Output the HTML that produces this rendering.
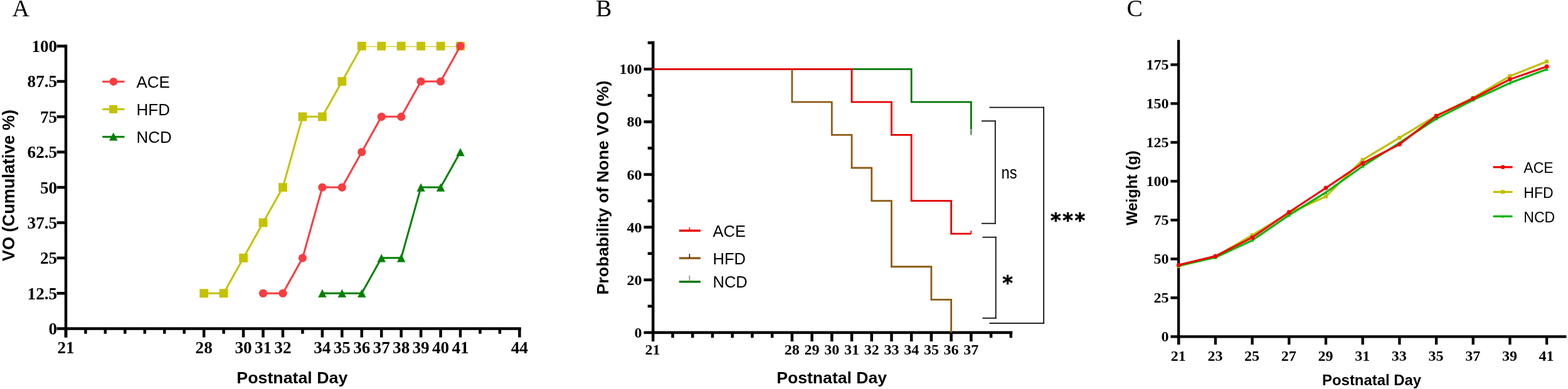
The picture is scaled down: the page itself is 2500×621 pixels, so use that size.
<!DOCTYPE html>
<html><head><meta charset="utf-8"><title>Figure</title>
<style>
html,body{margin:0;padding:0;background:#fff;}
body{width:2500px;height:621px;overflow:hidden;}
svg{display:block;}
</style></head>
<body>
<svg width="2500" height="621" viewBox="0 0 2500 621">
<rect x="0" y="0" width="2500" height="621" fill="#fff"/>
<text x="19.50" y="25.90" font-family="'Liberation Serif', 'Times New Roman', serif" font-size="38" font-weight="normal" text-anchor="start" fill="#000" >A</text>
<rect x="102.75" y="71.30" width="4.50" height="467.30" fill="#000"/>
<rect x="103.00" y="522.35" width="727.70" height="4.50" fill="#000"/>
<rect x="90.60" y="522.35" width="14.40" height="4.50" fill="#000"/>
<text x="91.20" y="534.00" font-family="'Liberation Serif', 'Times New Roman', serif" font-size="27.2" font-weight="bold" text-anchor="end" fill="#000" >0</text>
<rect x="90.60" y="465.98" width="14.40" height="4.50" fill="#000"/>
<text x="91.20" y="477.62" font-family="'Liberation Serif', 'Times New Roman', serif" font-size="27.2" font-weight="bold" text-anchor="end" fill="#000" >12.5</text>
<rect x="90.60" y="409.60" width="14.40" height="4.50" fill="#000"/>
<text x="91.20" y="421.25" font-family="'Liberation Serif', 'Times New Roman', serif" font-size="27.2" font-weight="bold" text-anchor="end" fill="#000" >25</text>
<rect x="90.60" y="353.23" width="14.40" height="4.50" fill="#000"/>
<text x="91.20" y="364.88" font-family="'Liberation Serif', 'Times New Roman', serif" font-size="27.2" font-weight="bold" text-anchor="end" fill="#000" >37.5</text>
<rect x="90.60" y="296.85" width="14.40" height="4.50" fill="#000"/>
<text x="91.20" y="308.50" font-family="'Liberation Serif', 'Times New Roman', serif" font-size="27.2" font-weight="bold" text-anchor="end" fill="#000" >50</text>
<rect x="90.60" y="240.48" width="14.40" height="4.50" fill="#000"/>
<text x="91.20" y="252.13" font-family="'Liberation Serif', 'Times New Roman', serif" font-size="27.2" font-weight="bold" text-anchor="end" fill="#000" >62.5</text>
<rect x="90.60" y="184.10" width="14.40" height="4.50" fill="#000"/>
<text x="91.20" y="195.75" font-family="'Liberation Serif', 'Times New Roman', serif" font-size="27.2" font-weight="bold" text-anchor="end" fill="#000" >75</text>
<rect x="90.60" y="127.73" width="14.40" height="4.50" fill="#000"/>
<text x="91.20" y="139.38" font-family="'Liberation Serif', 'Times New Roman', serif" font-size="27.2" font-weight="bold" text-anchor="end" fill="#000" >87.5</text>
<rect x="90.60" y="71.35" width="14.40" height="4.50" fill="#000"/>
<text x="91.20" y="83.00" font-family="'Liberation Serif', 'Times New Roman', serif" font-size="27.2" font-weight="bold" text-anchor="end" fill="#000" >100</text>
<rect x="102.75" y="524.60" width="4.50" height="14.00" fill="#000"/>
<rect x="134.20" y="524.60" width="4.50" height="8.20" fill="#000"/>
<rect x="165.65" y="524.60" width="4.50" height="8.20" fill="#000"/>
<rect x="197.10" y="524.60" width="4.50" height="8.20" fill="#000"/>
<rect x="228.55" y="524.60" width="4.50" height="8.20" fill="#000"/>
<rect x="260.00" y="524.60" width="4.50" height="8.20" fill="#000"/>
<rect x="291.45" y="524.60" width="4.50" height="8.20" fill="#000"/>
<rect x="322.90" y="524.60" width="4.50" height="14.00" fill="#000"/>
<rect x="354.35" y="524.60" width="4.50" height="8.20" fill="#000"/>
<rect x="385.80" y="524.60" width="4.50" height="14.00" fill="#000"/>
<rect x="417.25" y="524.60" width="4.50" height="14.00" fill="#000"/>
<rect x="448.70" y="524.60" width="4.50" height="14.00" fill="#000"/>
<rect x="480.15" y="524.60" width="4.50" height="8.20" fill="#000"/>
<rect x="511.60" y="524.60" width="4.50" height="14.00" fill="#000"/>
<rect x="543.05" y="524.60" width="4.50" height="14.00" fill="#000"/>
<rect x="574.50" y="524.60" width="4.50" height="14.00" fill="#000"/>
<rect x="605.95" y="524.60" width="4.50" height="14.00" fill="#000"/>
<rect x="637.40" y="524.60" width="4.50" height="14.00" fill="#000"/>
<rect x="668.85" y="524.60" width="4.50" height="14.00" fill="#000"/>
<rect x="700.30" y="524.60" width="4.50" height="14.00" fill="#000"/>
<rect x="731.75" y="524.60" width="4.50" height="14.00" fill="#000"/>
<rect x="763.20" y="524.60" width="4.50" height="8.20" fill="#000"/>
<rect x="794.65" y="524.60" width="4.50" height="8.20" fill="#000"/>
<rect x="826.10" y="524.60" width="4.50" height="14.00" fill="#000"/>
<text x="105.00" y="564.20" font-family="'Liberation Serif', 'Times New Roman', serif" font-size="27.2" font-weight="bold" text-anchor="middle" fill="#000" >21</text>
<text x="325.15" y="564.20" font-family="'Liberation Serif', 'Times New Roman', serif" font-size="27.2" font-weight="bold" text-anchor="middle" fill="#000" >28</text>
<text x="388.05" y="564.20" font-family="'Liberation Serif', 'Times New Roman', serif" font-size="27.2" font-weight="bold" text-anchor="middle" fill="#000" >30</text>
<text x="419.50" y="564.20" font-family="'Liberation Serif', 'Times New Roman', serif" font-size="27.2" font-weight="bold" text-anchor="middle" fill="#000" >31</text>
<text x="450.95" y="564.20" font-family="'Liberation Serif', 'Times New Roman', serif" font-size="27.2" font-weight="bold" text-anchor="middle" fill="#000" >32</text>
<text x="513.85" y="564.20" font-family="'Liberation Serif', 'Times New Roman', serif" font-size="27.2" font-weight="bold" text-anchor="middle" fill="#000" >34</text>
<text x="545.30" y="564.20" font-family="'Liberation Serif', 'Times New Roman', serif" font-size="27.2" font-weight="bold" text-anchor="middle" fill="#000" >35</text>
<text x="576.75" y="564.20" font-family="'Liberation Serif', 'Times New Roman', serif" font-size="27.2" font-weight="bold" text-anchor="middle" fill="#000" >36</text>
<text x="608.20" y="564.20" font-family="'Liberation Serif', 'Times New Roman', serif" font-size="27.2" font-weight="bold" text-anchor="middle" fill="#000" >37</text>
<text x="639.65" y="564.20" font-family="'Liberation Serif', 'Times New Roman', serif" font-size="27.2" font-weight="bold" text-anchor="middle" fill="#000" >38</text>
<text x="671.10" y="564.20" font-family="'Liberation Serif', 'Times New Roman', serif" font-size="27.2" font-weight="bold" text-anchor="middle" fill="#000" >39</text>
<text x="702.55" y="564.20" font-family="'Liberation Serif', 'Times New Roman', serif" font-size="27.2" font-weight="bold" text-anchor="middle" fill="#000" >40</text>
<text x="734.00" y="564.20" font-family="'Liberation Serif', 'Times New Roman', serif" font-size="27.2" font-weight="bold" text-anchor="middle" fill="#000" >41</text>
<text x="828.35" y="564.20" font-family="'Liberation Serif', 'Times New Roman', serif" font-size="27.2" font-weight="bold" text-anchor="middle" fill="#000" >44</text>
<text x="377.30" y="612.10" font-family="'Liberation Sans', Arial, Helvetica, sans-serif" font-size="26.5" font-weight="bold" text-anchor="start" fill="#000" textLength="177" lengthAdjust="spacingAndGlyphs">Postnatal Day</text>
<text transform="translate(22.6,417) rotate(-90)" x="0" y="0" font-family="'Liberation Sans', Arial, Helvetica, sans-serif" font-size="27" font-weight="bold" textLength="242" lengthAdjust="spacingAndGlyphs">VO (Cumulative %)</text>
<clipPath id="clipA"><rect x="0" y="73.9" width="900" height="460"/></clipPath>
<polyline points="513.85,468.23 545.30,468.23 576.75,468.23 608.20,411.85 639.65,411.85 671.10,299.10 702.55,299.10 734.00,242.73" fill="none" stroke="#008000" stroke-width="3" stroke-linejoin="miter" stroke-linecap="butt" />
<polygon points="507.15,474.83 520.55,474.83 513.85,461.62" fill="#008000"/>
<polygon points="538.60,474.83 552.00,474.83 545.30,461.62" fill="#008000"/>
<polygon points="570.05,474.83 583.45,474.83 576.75,461.62" fill="#008000"/>
<polygon points="601.50,418.45 614.90,418.45 608.20,405.25" fill="#008000"/>
<polygon points="632.95,418.45 646.35,418.45 639.65,405.25" fill="#008000"/>
<polygon points="664.40,305.70 677.80,305.70 671.10,292.50" fill="#008000"/>
<polygon points="695.85,305.70 709.25,305.70 702.55,292.50" fill="#008000"/>
<polygon points="727.30,249.33 740.70,249.33 734.00,236.13" fill="#008000"/>
<polyline points="325.15,468.23 356.60,468.23 388.05,411.85 419.50,355.48 450.95,299.10 482.40,186.35 513.85,186.35 545.30,129.98 576.75,73.60 608.20,73.60 639.65,73.60 671.10,73.60 702.55,73.60 734.00,73.60" fill="none" stroke="#c4c200" stroke-width="3" stroke-linejoin="miter" stroke-linecap="butt" clip-path="url(#clipA)"/>
<rect x="318.25" y="461.33" width="13.8" height="13.8" fill="#c4c200"/>
<rect x="349.70" y="461.33" width="13.8" height="13.8" fill="#c4c200"/>
<rect x="381.15" y="404.95" width="13.8" height="13.8" fill="#c4c200"/>
<rect x="412.60" y="348.58" width="13.8" height="13.8" fill="#c4c200"/>
<rect x="444.05" y="292.20" width="13.8" height="13.8" fill="#c4c200"/>
<rect x="475.50" y="179.45" width="13.8" height="13.8" fill="#c4c200"/>
<rect x="506.95" y="179.45" width="13.8" height="13.8" fill="#c4c200"/>
<rect x="538.40" y="123.08" width="13.8" height="13.8" fill="#c4c200"/>
<rect x="569.85" y="66.70" width="13.8" height="13.8" fill="#c4c200"/>
<rect x="601.30" y="66.70" width="13.8" height="13.8" fill="#c4c200"/>
<rect x="632.75" y="66.70" width="13.8" height="13.8" fill="#c4c200"/>
<rect x="664.20" y="66.70" width="13.8" height="13.8" fill="#c4c200"/>
<rect x="695.65" y="66.70" width="13.8" height="13.8" fill="#c4c200"/>
<rect x="727.10" y="66.70" width="13.8" height="13.8" fill="#c4c200"/>
<polyline points="419.50,468.23 450.95,468.23 482.40,411.85 513.85,299.10 545.30,299.10 576.75,242.73 608.20,186.35 639.65,186.35 671.10,129.98 702.55,129.98 734.00,73.60" fill="none" stroke="#fa3c40" stroke-width="3" stroke-linejoin="miter" stroke-linecap="butt" clip-path="url(#clipA)"/>
<circle cx="419.50" cy="468.23" r="6.6" fill="#fa3c40"/>
<circle cx="450.95" cy="468.23" r="6.6" fill="#fa3c40"/>
<circle cx="482.40" cy="411.85" r="6.6" fill="#fa3c40"/>
<circle cx="513.85" cy="299.10" r="6.6" fill="#fa3c40"/>
<circle cx="545.30" cy="299.10" r="6.6" fill="#fa3c40"/>
<circle cx="576.75" cy="242.73" r="6.6" fill="#fa3c40"/>
<circle cx="608.20" cy="186.35" r="6.6" fill="#fa3c40"/>
<circle cx="639.65" cy="186.35" r="6.6" fill="#fa3c40"/>
<circle cx="671.10" cy="129.98" r="6.6" fill="#fa3c40"/>
<circle cx="702.55" cy="129.98" r="6.6" fill="#fa3c40"/>
<circle cx="734.00" cy="73.60" r="6.6" fill="#fa3c40"/>
<rect x="163.20" y="128.80" width="35.30" height="3.00" fill="#fa3c40"/>
<circle cx="181.00" cy="130.30" r="6.4" fill="#fa3c40"/>
<text x="217.50" y="140.10" font-family="'Liberation Sans', Arial, Helvetica, sans-serif" font-size="26" font-weight="normal" text-anchor="start" fill="#000" >ACE</text>
<rect x="163.20" y="172.90" width="35.30" height="3.00" fill="#c4c200"/>
<rect x="174.10" y="167.90" width="13" height="13" fill="#c4c200"/>
<text x="217.50" y="184.20" font-family="'Liberation Sans', Arial, Helvetica, sans-serif" font-size="26" font-weight="normal" text-anchor="start" fill="#000" >HFD</text>
<rect x="163.20" y="216.90" width="35.30" height="3.00" fill="#008000"/>
<polygon points="174.00,224.60 187.60,224.60 180.80,211.60" fill="#008000"/>
<text x="217.50" y="228.20" font-family="'Liberation Sans', Arial, Helvetica, sans-serif" font-size="26" font-weight="normal" text-anchor="start" fill="#000" >NCD</text>
<text x="950.00" y="25.80" font-family="'Liberation Serif', 'Times New Roman', serif" font-size="38" font-weight="normal" text-anchor="start" fill="#000" >B</text>
<rect x="1038.95" y="65.70" width="4.50" height="479.40" fill="#000"/>
<rect x="1039.00" y="528.65" width="575.30" height="4.50" fill="#000"/>
<rect x="1026.50" y="528.65" width="14.70" height="4.50" fill="#000"/>
<text x="1023.40" y="538.90" font-family="'Liberation Serif', 'Times New Roman', serif" font-size="24" font-weight="bold" text-anchor="end" fill="#000" >0</text>
<rect x="1032.70" y="486.59" width="8.50" height="4.50" fill="#000"/>
<rect x="1026.50" y="444.53" width="14.70" height="4.50" fill="#000"/>
<text x="1023.40" y="454.78" font-family="'Liberation Serif', 'Times New Roman', serif" font-size="24" font-weight="bold" text-anchor="end" fill="#000" >20</text>
<rect x="1032.70" y="402.47" width="8.50" height="4.50" fill="#000"/>
<rect x="1026.50" y="360.41" width="14.70" height="4.50" fill="#000"/>
<text x="1023.40" y="370.66" font-family="'Liberation Serif', 'Times New Roman', serif" font-size="24" font-weight="bold" text-anchor="end" fill="#000" >40</text>
<rect x="1032.70" y="318.35" width="8.50" height="4.50" fill="#000"/>
<rect x="1026.50" y="276.29" width="14.70" height="4.50" fill="#000"/>
<text x="1023.40" y="286.54" font-family="'Liberation Serif', 'Times New Roman', serif" font-size="24" font-weight="bold" text-anchor="end" fill="#000" >60</text>
<rect x="1032.70" y="234.23" width="8.50" height="4.50" fill="#000"/>
<rect x="1026.50" y="192.17" width="14.70" height="4.50" fill="#000"/>
<text x="1023.40" y="202.42" font-family="'Liberation Serif', 'Times New Roman', serif" font-size="24" font-weight="bold" text-anchor="end" fill="#000" >80</text>
<rect x="1032.70" y="150.11" width="8.50" height="4.50" fill="#000"/>
<rect x="1026.50" y="108.05" width="14.70" height="4.50" fill="#000"/>
<text x="1023.40" y="118.30" font-family="'Liberation Serif', 'Times New Roman', serif" font-size="24" font-weight="bold" text-anchor="end" fill="#000" >100</text>
<rect x="1032.70" y="65.99" width="8.50" height="4.50" fill="#000"/>
<rect x="1070.27" y="530.90" width="4.50" height="8.40" fill="#000"/>
<rect x="1101.99" y="530.90" width="4.50" height="8.40" fill="#000"/>
<rect x="1133.71" y="530.90" width="4.50" height="8.40" fill="#000"/>
<rect x="1165.43" y="530.90" width="4.50" height="8.40" fill="#000"/>
<rect x="1197.15" y="530.90" width="4.50" height="8.40" fill="#000"/>
<rect x="1228.87" y="530.90" width="4.50" height="8.40" fill="#000"/>
<rect x="1260.59" y="530.90" width="4.50" height="14.20" fill="#000"/>
<rect x="1292.31" y="530.90" width="4.50" height="14.20" fill="#000"/>
<rect x="1324.03" y="530.90" width="4.50" height="14.20" fill="#000"/>
<rect x="1355.75" y="530.90" width="4.50" height="14.20" fill="#000"/>
<rect x="1387.47" y="530.90" width="4.50" height="14.20" fill="#000"/>
<rect x="1419.19" y="530.90" width="4.50" height="14.20" fill="#000"/>
<rect x="1450.91" y="530.90" width="4.50" height="14.20" fill="#000"/>
<rect x="1482.63" y="530.90" width="4.50" height="14.20" fill="#000"/>
<rect x="1514.35" y="530.90" width="4.50" height="14.20" fill="#000"/>
<rect x="1546.07" y="530.90" width="4.50" height="14.20" fill="#000"/>
<rect x="1577.79" y="530.90" width="4.50" height="8.40" fill="#000"/>
<rect x="1609.51" y="530.90" width="4.50" height="8.40" fill="#000"/>
<text x="1040.60" y="566.20" font-family="'Liberation Serif', 'Times New Roman', serif" font-size="24" font-weight="bold" text-anchor="middle" fill="#000" >21</text>
<text x="1262.84" y="566.20" font-family="'Liberation Serif', 'Times New Roman', serif" font-size="24" font-weight="bold" text-anchor="middle" fill="#000" >28</text>
<text x="1294.56" y="566.20" font-family="'Liberation Serif', 'Times New Roman', serif" font-size="24" font-weight="bold" text-anchor="middle" fill="#000" >29</text>
<text x="1326.28" y="566.20" font-family="'Liberation Serif', 'Times New Roman', serif" font-size="24" font-weight="bold" text-anchor="middle" fill="#000" >30</text>
<text x="1358.00" y="566.20" font-family="'Liberation Serif', 'Times New Roman', serif" font-size="24" font-weight="bold" text-anchor="middle" fill="#000" >31</text>
<text x="1389.72" y="566.20" font-family="'Liberation Serif', 'Times New Roman', serif" font-size="24" font-weight="bold" text-anchor="middle" fill="#000" >32</text>
<text x="1421.44" y="566.20" font-family="'Liberation Serif', 'Times New Roman', serif" font-size="24" font-weight="bold" text-anchor="middle" fill="#000" >33</text>
<text x="1453.16" y="566.20" font-family="'Liberation Serif', 'Times New Roman', serif" font-size="24" font-weight="bold" text-anchor="middle" fill="#000" >34</text>
<text x="1484.88" y="566.20" font-family="'Liberation Serif', 'Times New Roman', serif" font-size="24" font-weight="bold" text-anchor="middle" fill="#000" >35</text>
<text x="1516.60" y="566.20" font-family="'Liberation Serif', 'Times New Roman', serif" font-size="24" font-weight="bold" text-anchor="middle" fill="#000" >36</text>
<text x="1548.32" y="566.20" font-family="'Liberation Serif', 'Times New Roman', serif" font-size="24" font-weight="bold" text-anchor="middle" fill="#000" >37</text>
<text x="1238.20" y="612.30" font-family="'Liberation Sans', Arial, Helvetica, sans-serif" font-size="26.5" font-weight="bold" text-anchor="start" fill="#000" textLength="176" lengthAdjust="spacingAndGlyphs">Postnatal Day</text>
<text transform="translate(970.2,470.6) rotate(-90)" x="0" y="0" font-family="'Liberation Sans', Arial, Helvetica, sans-serif" font-size="26.6" font-weight="bold" textLength="342" lengthAdjust="spacingAndGlyphs">Probability of None VO (%)</text>
<polyline points="1040.80,110.30 1453.16,110.30 1453.16,162.87 1548.32,162.87 1548.32,162.87 1548.32,206.20" fill="none" stroke="#057505" stroke-width="2.8" stroke-linejoin="miter" stroke-linecap="butt" />
<rect x="1546.92" y="206.20" width="2.80" height="9.25" fill="#6f8f6f"/>
<polyline points="1040.80,110.30 1262.84,110.30 1262.84,162.87 1326.28,162.87 1326.28,215.45 1358.00,215.45 1358.00,268.02 1389.72,268.02 1389.72,320.60 1421.44,320.60 1421.44,425.75 1484.88,425.75 1484.88,478.32 1516.60,478.32 1516.60,530.90" fill="none" stroke="#8c5c14" stroke-width="2.8" stroke-linejoin="miter" stroke-linecap="butt" />
<polyline points="1040.80,110.30 1358.00,110.30 1358.00,162.87 1421.44,162.87 1421.44,215.45 1453.16,215.45 1453.16,320.60 1516.60,320.60 1516.60,373.17 1548.32,373.17 1548.32,373.17" fill="none" stroke="#e40000" stroke-width="2.8" stroke-linejoin="miter" stroke-linecap="butt" />
<rect x="1547.42" y="368.17" width="1.80" height="5.00" fill="#e40000"/>
<rect x="1577.50" y="170.60" width="87.60" height="1.80" fill="#111"/>
<rect x="1663.20" y="170.60" width="1.80" height="346.30" fill="#111"/>
<rect x="1577.40" y="515.10" width="87.70" height="1.80" fill="#111"/>
<rect x="1565.00" y="192.30" width="22.60" height="1.80" fill="#111"/>
<rect x="1585.90" y="192.30" width="1.80" height="165.30" fill="#111"/>
<rect x="1565.00" y="355.80" width="22.60" height="1.80" fill="#111"/>
<rect x="1566.50" y="377.80" width="22.10" height="1.80" fill="#111"/>
<rect x="1586.80" y="377.80" width="1.80" height="130.90" fill="#111"/>
<rect x="1566.50" y="506.90" width="22.10" height="1.80" fill="#111"/>
<text x="1596.50" y="284.80" font-family="'Liberation Sans', Arial, Helvetica, sans-serif" font-size="28" font-weight="normal" text-anchor="start" fill="#000" textLength="25" lengthAdjust="spacingAndGlyphs">ns</text>
<text x="1598.20" y="462.20" font-family="'DejaVu Sans', 'Liberation Sans', sans-serif" font-size="31.8" font-weight="bold" text-anchor="start" fill="#000" stroke="#000" stroke-width="0.7">*</text>
<text x="1674.90" y="362.30" font-family="'DejaVu Sans', 'Liberation Sans', sans-serif" font-size="31.8" font-weight="bold" text-anchor="start" fill="#000" stroke="#000" stroke-width="0.7" letter-spacing="2.7">***</text>
<rect x="1082.80" y="366.50" width="34.10" height="3.40" fill="#e40000"/>
<rect x="1098.60" y="363.20" width="1.60" height="5.00" fill="#e40000"/>
<text x="1136.50" y="377.70" font-family="'Liberation Sans', Arial, Helvetica, sans-serif" font-size="25.5" font-weight="normal" text-anchor="start" fill="#000" >ACE</text>
<rect x="1082.80" y="410.40" width="34.10" height="3.40" fill="#8c5c14"/>
<rect x="1098.60" y="405.10" width="1.60" height="7.00" fill="#222"/>
<text x="1136.50" y="421.60" font-family="'Liberation Sans', Arial, Helvetica, sans-serif" font-size="25.5" font-weight="normal" text-anchor="start" fill="#000" >HFD</text>
<rect x="1082.80" y="448.10" width="34.10" height="3.40" fill="#057505"/>
<rect x="1098.60" y="439.80" width="1.60" height="10.00" fill="#888"/>
<text x="1136.50" y="459.30" font-family="'Liberation Sans', Arial, Helvetica, sans-serif" font-size="25.5" font-weight="normal" text-anchor="start" fill="#000" >NCD</text>
<text x="1796.50" y="25.80" font-family="'Liberation Serif', 'Times New Roman', serif" font-size="38" font-weight="normal" text-anchor="start" fill="#000" >C</text>
<rect x="1876.95" y="63.70" width="4.30" height="486.30" fill="#000"/>
<rect x="1877.00" y="535.25" width="620.50" height="4.30" fill="#000"/>
<rect x="1866.40" y="535.25" width="12.70" height="4.30" fill="#000"/>
<text x="1863.40" y="545.40" font-family="'Liberation Serif', 'Times New Roman', serif" font-size="24" font-weight="bold" text-anchor="end" fill="#000" >0</text>
<rect x="1866.40" y="473.24" width="12.70" height="4.30" fill="#000"/>
<text x="1863.40" y="483.38" font-family="'Liberation Serif', 'Times New Roman', serif" font-size="24" font-weight="bold" text-anchor="end" fill="#000" >25</text>
<rect x="1866.40" y="411.22" width="12.70" height="4.30" fill="#000"/>
<text x="1863.40" y="421.37" font-family="'Liberation Serif', 'Times New Roman', serif" font-size="24" font-weight="bold" text-anchor="end" fill="#000" >50</text>
<rect x="1866.40" y="349.21" width="12.70" height="4.30" fill="#000"/>
<text x="1863.40" y="359.36" font-family="'Liberation Serif', 'Times New Roman', serif" font-size="24" font-weight="bold" text-anchor="end" fill="#000" >75</text>
<rect x="1866.40" y="287.19" width="12.70" height="4.30" fill="#000"/>
<text x="1863.40" y="297.34" font-family="'Liberation Serif', 'Times New Roman', serif" font-size="24" font-weight="bold" text-anchor="end" fill="#000" >100</text>
<rect x="1866.40" y="225.17" width="12.70" height="4.30" fill="#000"/>
<text x="1863.40" y="235.32" font-family="'Liberation Serif', 'Times New Roman', serif" font-size="24" font-weight="bold" text-anchor="end" fill="#000" >125</text>
<rect x="1866.40" y="163.16" width="12.70" height="4.30" fill="#000"/>
<text x="1863.40" y="173.31" font-family="'Liberation Serif', 'Times New Roman', serif" font-size="24" font-weight="bold" text-anchor="end" fill="#000" >150</text>
<rect x="1866.40" y="101.15" width="12.70" height="4.30" fill="#000"/>
<text x="1863.40" y="111.30" font-family="'Liberation Serif', 'Times New Roman', serif" font-size="24" font-weight="bold" text-anchor="end" fill="#000" >175</text>
<rect x="1877.05" y="537.40" width="4.30" height="12.80" fill="#000"/>
<text x="1878.70" y="576.30" font-family="'Liberation Serif', 'Times New Roman', serif" font-size="24" font-weight="bold" text-anchor="middle" fill="#000" >21</text>
<rect x="1935.74" y="537.40" width="4.30" height="12.80" fill="#000"/>
<text x="1937.39" y="576.30" font-family="'Liberation Serif', 'Times New Roman', serif" font-size="24" font-weight="bold" text-anchor="middle" fill="#000" >23</text>
<rect x="1994.43" y="537.40" width="4.30" height="12.80" fill="#000"/>
<text x="1996.08" y="576.30" font-family="'Liberation Serif', 'Times New Roman', serif" font-size="24" font-weight="bold" text-anchor="middle" fill="#000" >25</text>
<rect x="2053.12" y="537.40" width="4.30" height="12.80" fill="#000"/>
<text x="2054.77" y="576.30" font-family="'Liberation Serif', 'Times New Roman', serif" font-size="24" font-weight="bold" text-anchor="middle" fill="#000" >27</text>
<rect x="2111.81" y="537.40" width="4.30" height="12.80" fill="#000"/>
<text x="2113.46" y="576.30" font-family="'Liberation Serif', 'Times New Roman', serif" font-size="24" font-weight="bold" text-anchor="middle" fill="#000" >29</text>
<rect x="2170.50" y="537.40" width="4.30" height="12.80" fill="#000"/>
<text x="2172.15" y="576.30" font-family="'Liberation Serif', 'Times New Roman', serif" font-size="24" font-weight="bold" text-anchor="middle" fill="#000" >31</text>
<rect x="2229.19" y="537.40" width="4.30" height="12.80" fill="#000"/>
<text x="2230.84" y="576.30" font-family="'Liberation Serif', 'Times New Roman', serif" font-size="24" font-weight="bold" text-anchor="middle" fill="#000" >33</text>
<rect x="2287.88" y="537.40" width="4.30" height="12.80" fill="#000"/>
<text x="2289.53" y="576.30" font-family="'Liberation Serif', 'Times New Roman', serif" font-size="24" font-weight="bold" text-anchor="middle" fill="#000" >35</text>
<rect x="2346.57" y="537.40" width="4.30" height="12.80" fill="#000"/>
<text x="2348.22" y="576.30" font-family="'Liberation Serif', 'Times New Roman', serif" font-size="24" font-weight="bold" text-anchor="middle" fill="#000" >37</text>
<rect x="2405.26" y="537.40" width="4.30" height="12.80" fill="#000"/>
<text x="2406.91" y="576.30" font-family="'Liberation Serif', 'Times New Roman', serif" font-size="24" font-weight="bold" text-anchor="middle" fill="#000" >39</text>
<rect x="2463.95" y="537.40" width="4.30" height="12.80" fill="#000"/>
<text x="2465.60" y="576.30" font-family="'Liberation Serif', 'Times New Roman', serif" font-size="24" font-weight="bold" text-anchor="middle" fill="#000" >41</text>
<text x="2108.10" y="615.20" font-family="'Liberation Sans', Arial, Helvetica, sans-serif" font-size="24" font-weight="bold" text-anchor="start" fill="#000" textLength="158" lengthAdjust="spacingAndGlyphs">Postnatal Day</text>
<text transform="translate(1812.6,359.7) rotate(-90)" x="0" y="0" font-family="'Liberation Sans', Arial, Helvetica, sans-serif" font-size="24.2" font-weight="bold" textLength="119.3" lengthAdjust="spacingAndGlyphs">Weight (g)</text>
<polyline points="1879.20,425.03 1937.89,409.65 1996.58,375.42 2055.27,340.19 2113.96,313.65 2172.65,255.11 2231.34,219.88 2290.03,184.66 2348.72,156.13 2407.41,121.40 2466.10,98.33" fill="none" stroke="#c0bf00" stroke-width="3.2" stroke-linejoin="miter" stroke-linecap="butt" />
<rect x="1876.20" y="422.03" width="6" height="6" fill="#c0bf00"/>
<rect x="1934.89" y="406.65" width="6" height="6" fill="#c0bf00"/>
<rect x="1993.58" y="372.42" width="6" height="6" fill="#c0bf00"/>
<rect x="2052.27" y="337.19" width="6" height="6" fill="#c0bf00"/>
<rect x="2110.96" y="310.65" width="6" height="6" fill="#c0bf00"/>
<rect x="2169.65" y="252.11" width="6" height="6" fill="#c0bf00"/>
<rect x="2228.34" y="216.88" width="6" height="6" fill="#c0bf00"/>
<rect x="2287.03" y="181.66" width="6" height="6" fill="#c0bf00"/>
<rect x="2345.72" y="153.13" width="6" height="6" fill="#c0bf00"/>
<rect x="2404.41" y="118.40" width="6" height="6" fill="#c0bf00"/>
<rect x="2463.10" y="95.33" width="6" height="6" fill="#c0bf00"/>
<polyline points="1879.20,424.28 1937.89,410.89 1996.58,383.60 2055.27,343.42 2113.96,307.20 2172.65,265.28 2231.34,228.07 2290.03,189.62 2348.72,159.60 2407.41,132.57 2466.10,110.49" fill="none" stroke="#00b400" stroke-width="3.2" stroke-linejoin="miter" stroke-linecap="butt" />
<polygon points="1876.70,426.78 1881.70,426.78 1879.20,421.78" fill="#00b400"/>
<polygon points="1935.39,413.39 1940.39,413.39 1937.89,408.39" fill="#00b400"/>
<polygon points="1994.08,386.10 1999.08,386.10 1996.58,381.10" fill="#00b400"/>
<polygon points="2052.77,345.92 2057.77,345.92 2055.27,340.92" fill="#00b400"/>
<polygon points="2111.46,309.70 2116.46,309.70 2113.96,304.70" fill="#00b400"/>
<polygon points="2170.15,267.78 2175.15,267.78 2172.65,262.78" fill="#00b400"/>
<polygon points="2228.84,230.57 2233.84,230.57 2231.34,225.57" fill="#00b400"/>
<polygon points="2287.53,192.12 2292.53,192.12 2290.03,187.12" fill="#00b400"/>
<polygon points="2346.22,162.10 2351.22,162.10 2348.72,157.10" fill="#00b400"/>
<polygon points="2404.91,135.07 2409.91,135.07 2407.41,130.07" fill="#00b400"/>
<polygon points="2463.60,112.99 2468.60,112.99 2466.10,107.99" fill="#00b400"/>
<polyline points="1879.20,423.04 1937.89,408.90 1996.58,379.14 2055.27,338.70 2113.96,300.01 2172.65,260.57 2231.34,230.30 2290.03,185.15 2348.72,157.12 2407.41,126.61 2466.10,106.27" fill="none" stroke="#f20000" stroke-width="3.2" stroke-linejoin="miter" stroke-linecap="butt" />
<circle cx="1879.20" cy="423.04" r="3.4" fill="#f20000"/>
<circle cx="1937.89" cy="408.90" r="3.4" fill="#f20000"/>
<circle cx="1996.58" cy="379.14" r="3.4" fill="#f20000"/>
<circle cx="2055.27" cy="338.70" r="3.4" fill="#f20000"/>
<circle cx="2113.96" cy="300.01" r="3.4" fill="#f20000"/>
<circle cx="2172.65" cy="260.57" r="3.4" fill="#f20000"/>
<circle cx="2231.34" cy="230.30" r="3.4" fill="#f20000"/>
<circle cx="2290.03" cy="185.15" r="3.4" fill="#f20000"/>
<circle cx="2348.72" cy="157.12" r="3.4" fill="#f20000"/>
<circle cx="2407.41" cy="126.61" r="3.4" fill="#f20000"/>
<circle cx="2466.10" cy="106.27" r="3.4" fill="#f20000"/>
<rect x="2380.60" y="265.20" width="30.90" height="3.20" fill="#f20000"/>
<circle cx="2396.10" cy="266.80" r="3.3" fill="#f20000"/>
<text x="2429.30" y="276.10" font-family="'Liberation Sans', Arial, Helvetica, sans-serif" font-size="23" font-weight="normal" text-anchor="start" fill="#000" >ACE</text>
<rect x="2380.60" y="304.80" width="30.90" height="3.20" fill="#c0bf00"/>
<rect x="2393.10" y="303.40" width="6" height="6" fill="#c0bf00"/>
<text x="2429.30" y="315.70" font-family="'Liberation Sans', Arial, Helvetica, sans-serif" font-size="23" font-weight="normal" text-anchor="start" fill="#000" >HFD</text>
<rect x="2380.60" y="343.80" width="30.90" height="3.20" fill="#00b400"/>
<polygon points="2394.10,347.40 2398.10,347.40 2396.10,343.40" fill="#00b400"/>
<text x="2429.30" y="354.70" font-family="'Liberation Sans', Arial, Helvetica, sans-serif" font-size="23" font-weight="normal" text-anchor="start" fill="#000" >NCD</text>
</svg>
</body></html>
